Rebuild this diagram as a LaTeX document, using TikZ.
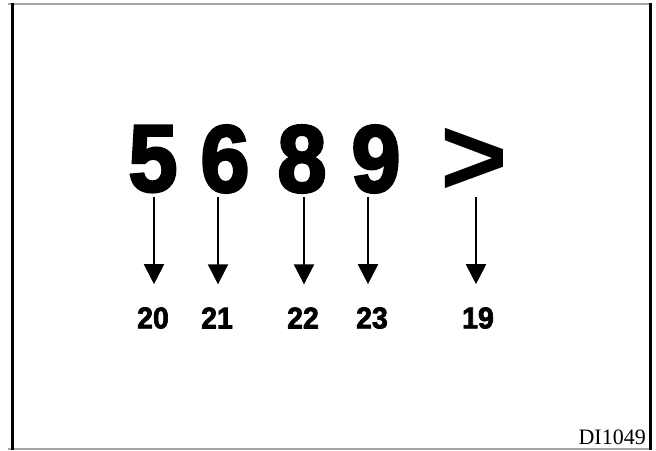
\documentclass[tikz,border=0pt]{standalone}
\usepackage{fontspec}
\setmainfont{Liberation Sans}
\newfontfamily\serifcap{Liberation Serif}
\newfontface\heavy{Liberation Sans Bold}[FakeBold=3]
\newfontface\heavylbl{Liberation Sans Bold}[FakeBold=2.5]
\newfontface\plainbold{Liberation Sans Bold}
\usetikzlibrary{arrows.meta}
\begin{document}
\begin{tikzpicture}[x=1pt,y=-1pt,
  digit/.style={inner sep=0pt,xscale=0.93,font=\heavy\fontsize{95}{95}\selectfont},
  gt/.style={inner sep=0pt,xscale=1.22,yscale=1.18,font=\plainbold\fontsize{95}{95}\selectfont},
  lbl/.style={inner sep=0pt,xscale=0.95,font=\heavylbl\fontsize{30}{30}\selectfont},
  arr/.style={line width=2pt,-{Triangle[width=20pt,length=20pt]},shorten >=23pt}]
\useasboundingbox (0,0) rectangle (656,450);
\fill[white] (0,0) rectangle (656,450);
% frame
\draw[line width=2pt,gray!70] (8,3.5) -- (651,3.5);
\draw[line width=2pt,gray!70] (8,448.5) -- (651,448.5);
\draw[line width=3pt] (12,3) -- (12,450);
\draw[line width=3pt] (650.5,3) -- (650.5,450);
% characters
\node[digit] (d5) at (153,159) {5};
\node[digit] (d6) at (225,159) {6};
\node[digit] (d8) at (302,159) {8};
\node[digit] (d9) at (376,159) {9};
\node[gt] (dg) at (474,162) {>};
% labels
\node[lbl] (l20) at (153,318) {20};
\node[lbl] (l21) at (217,318) {21};
\node[lbl] (l22) at (303,318) {22};
\node[lbl] (l23) at (372,318) {23};
\node[lbl] (l19) at (478,318) {19};
% arrow starts
\coordinate (s20) at (154,197);
\coordinate (s21) at (218,197);
\coordinate (s22) at (304,197);
\coordinate (s23) at (368,197);
\coordinate (s19) at (476,197);
\draw[arr] (s20) -- (s20 |- l20.north);
\draw[arr] (s21) -- (s21 |- l21.north);
\draw[arr] (s22) -- (s22 |- l22.north);
\draw[arr] (s23) -- (s23 |- l23.north);
\draw[arr] (s19) -- (s19 |- l19.north);
\node[anchor=south east,inner sep=0pt,font=\serifcap\fontsize{22}{22}\selectfont] (code) at (646,445) {DI1049};
\end{tikzpicture}
\end{document}
